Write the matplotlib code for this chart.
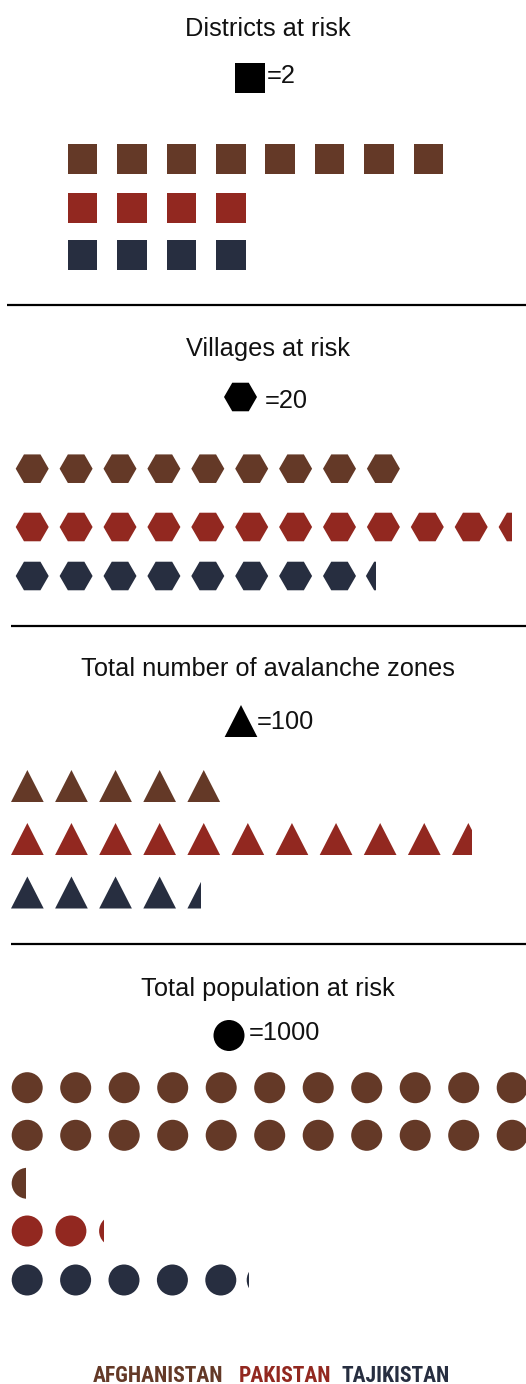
import math
import matplotlib
matplotlib.use("Agg")
import matplotlib.pyplot as plt
from matplotlib.patches import Rectangle, Circle, RegularPolygon, Polygon
from matplotlib import font_manager

# ---------------- data ----------------
countries = ["AFGHANISTAN", "PAKISTAN", "TAJIKISTAN"]
colors = ["#643927", "#922820", "#272e40"]

titles = ["Districts at risk", "Villages at risk",
          "Total number of avalanche zones", "Total population at risk"]
units = [2, 20, 100, 1000]
unit_labels = ["=2", "=20", "=100", "=1000"]

districts = [16, 8, 8]
villages = [180, 228, 166]
avalanche_zones = [500, 1062, 442]
population = [22460, 2160, 5090]

# ---------------- layout (pixels) ----------------
W, H = 526, 1384
fig = plt.figure(figsize=(W / 100, H / 100), dpi=100)
ax = fig.add_axes([0, 0, 1, 1])
ax.set_xlim(0, W)
ax.set_ylim(H, 0)
ax.axis("off")

TITLE_FONT = "Liberation Sans"

sections = [
    dict(kind="square", values=districts, w=29.7, h=29.7, x0=67.7,
         pitch=[49.4, 49.4, 49.4], pshift=[0, 0, 0],
         rows=[159, 208, 255], per_row=None, title_y=36,
         leg_c=(250, 78), leg_txt=(267, 82.7)),
    dict(kind="hex", values=villages, w=33, h=28.6, x0=15.7,
         pitch=[43.9, 43.9, 43.9], pshift=[0, 0, -1],
         rows=[468.7, 527, 576], per_row=None, title_y=356,
         leg_c=(240.5, 397), leg_txt=(264.5, 408.3)),
    dict(kind="tri", values=avalanche_zones, w=32.7, h=32, x0=11,
         pitch=[44.1, 44.1, 44.1], pshift=[0, 0, 0],
         rows=[786, 839, 892.5], per_row=None, title_y=676,
         leg_c=(241, 721), leg_txt=(257, 729.3)),
    dict(kind="circle", values=population, w=31, h=31, x0=11.7,
         pitch=[48.5, 43.7, 48.4], pshift=[0, 0, -7],
         rows=[1087.7, 1135.3, 1183.3, 1231, 1280], per_row=11, title_y=996,
         leg_c=(229, 1035.5), leg_txt=(249, 1040)),
]
separators = [(7, 305), (11, 626), (11, 944)]


def make_shape(kind, cx, cy, w, h, color):
    if kind == "square":
        return Rectangle((cx - w / 2, cy - h / 2), w, h, facecolor=color,
                         edgecolor="none")
    if kind == "hex":
        return RegularPolygon((cx, cy), numVertices=6, radius=w / 2,
                              orientation=math.pi / 6, facecolor=color,
                              edgecolor="none")
    if kind == "tri":
        return Polygon([(cx - w / 2, cy + h / 2), (cx + w / 2, cy + h / 2),
                        (cx, cy - h / 2)], closed=True, facecolor=color,
                       edgecolor="none")
    return Circle((cx, cy), w / 2, facecolor=color, edgecolor="none")


for si, sec in enumerate(sections):
    # title
    ax.text(268, sec["title_y"], titles[si], ha="center", va="baseline",
            fontsize=18.3, family=TITLE_FONT, color="#111111")
    # legend key
    lx, ly = sec["leg_c"]
    ax.add_patch(make_shape(sec["kind"], lx, ly, sec["w"], sec["h"], "black"))
    ax.text(sec["leg_txt"][0], sec["leg_txt"][1], unit_labels[si], ha="left",
            va="baseline", fontsize=18.3, family=TITLE_FONT, color="#111111")
    # pictogram rows
    row_idx = 0
    for ci, v in enumerate(sec["values"]):
        n = v / units[si]
        full = int(math.floor(n + 1e-9))
        frac = n - full
        per_row = sec["per_row"] or (full + 1)
        total = full + (1 if frac > 1e-6 else 0)
        nrows = max(1, math.ceil(total / per_row))
        pitch = sec["pitch"][ci]
        for k in range(total):
            r = row_idx + k // per_row
            col = k % per_row
            left = sec["x0"] + col * pitch
            if k == full and col > 0:
                left += sec["pshift"][ci]
            cx = left + sec["w"] / 2
            cy = sec["rows"][r]
            p = make_shape(sec["kind"], cx, cy, sec["w"], sec["h"], colors[ci])
            ax.add_patch(p)
            if k == full:  # partial icon
                clip = Rectangle((left - 1, cy - sec["h"]), frac * sec["w"] + 1,
                                 2 * sec["h"], transform=ax.transData)
                p.set_clip_path(clip)
        row_idx += nrows

for x0, y in separators:
    ax.plot([x0, W], [y, y], color="black", lw=1.6, solid_capstyle="butt")

# ---------------- footer legend ----------------
names = {f.name for f in font_manager.fontManager.ttflist}
foot_kw = dict(weight="bold")
if "Liberation Sans Narrow" in names:
    foot_kw["family"] = "Liberation Sans Narrow"
elif "Roboto Condensed" in names:
    foot_kw["family"] = "Roboto Condensed"
else:
    foot_kw["family"] = "Liberation Sans"

foot_x = [93, 239, 342]
foot_w = [131, 89, 106]
renderer = fig.canvas.get_renderer()
size = 16
t = ax.text(0, 0, countries[0], fontsize=size, **foot_kw)
wpx = t.get_window_extent(renderer).width
t.remove()
size = size * foot_w[0] / wpx
for ci, name in enumerate(countries):
    ax.text(foot_x[ci], 1381.5, name, ha="left", va="baseline",
            fontsize=size, color=colors[ci], **foot_kw)

fig.savefig("out.png", dpi=100)
